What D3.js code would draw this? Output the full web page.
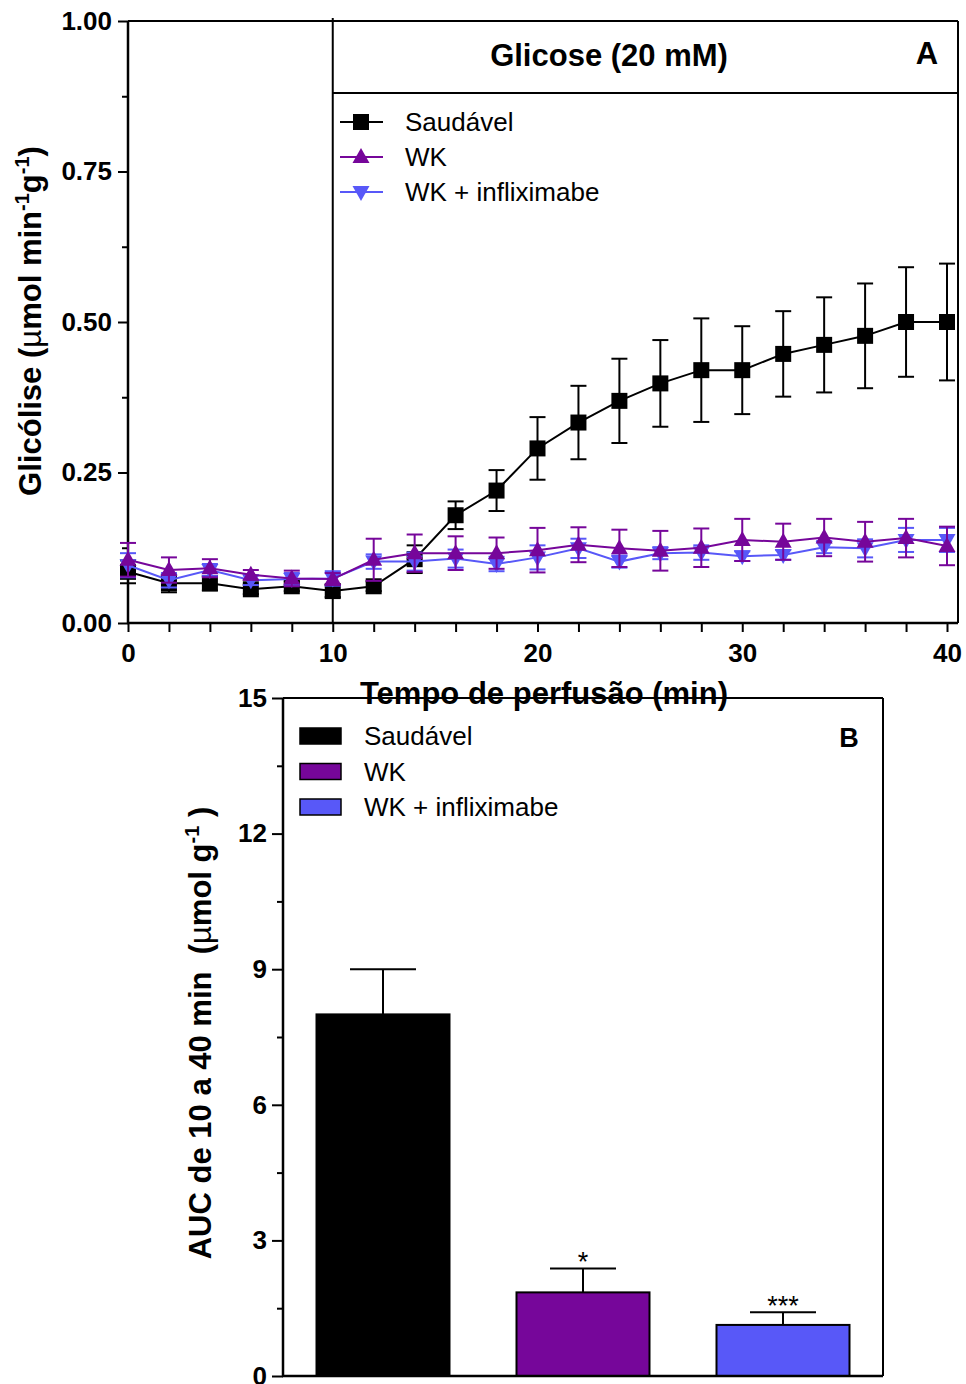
<!DOCTYPE html>
<html lang="en">
<head>
<meta charset="UTF-8">
<title>Glicólise</title>
<style>
    body { margin: 0; background: #fff; }
    svg { display: block; font-family: "Liberation Sans", Arial, sans-serif; }
    .tick-lbl { font-weight: bold; font-size: 26px; }
</style>
</head>
<body>
<div id="chart"></div>
<script src="https://d3js.org/d3.v7.min.js"></script>
<script>
// ---- data (panel A) ----
const times = [0, 2, 4, 6, 8, 10, 12, 14, 16, 18, 20, 22, 24, 26, 28, 30, 32, 34, 36, 38, 40];
const saudavel = [0.085, 0.066, 0.066, 0.056, 0.061, 0.053, 0.061, 0.106, 0.179, 0.220, 0.290, 0.333, 0.369, 0.398, 0.420, 0.420, 0.447, 0.462, 0.477, 0.500, 0.500];
const saudavelErr = [0.019, 0.015, 0.012, 0.008, 0.008, 0.010, 0.008, 0.023, 0.023, 0.034, 0.052, 0.061, 0.070, 0.072, 0.086, 0.073, 0.071, 0.079, 0.087, 0.091, 0.097];
const wk = [0.105, 0.088, 0.091, 0.080, 0.074, 0.073, 0.105, 0.116, 0.116, 0.116, 0.121, 0.130, 0.124, 0.120, 0.125, 0.138, 0.135, 0.142, 0.135, 0.141, 0.128];
const wkErr = [0.028, 0.021, 0.015, 0.008, 0.013, 0.010, 0.035, 0.031, 0.028, 0.026, 0.037, 0.029, 0.031, 0.033, 0.032, 0.035, 0.030, 0.031, 0.033, 0.032, 0.032];
const wkInf = [0.096, 0.071, 0.088, 0.071, 0.073, 0.074, 0.102, 0.102, 0.107, 0.098, 0.109, 0.124, 0.102, 0.116, 0.117, 0.111, 0.113, 0.126, 0.124, 0.138, 0.138];
const wkInfErr = [0.020, 0.012, 0.010, 0.008, 0.010, 0.012, 0.012, 0.015, 0.015, 0.012, 0.020, 0.016, 0.010, 0.010, 0.012, 0.008, 0.008, 0.010, 0.015, 0.020, 0.020];
const yTicksA = [0, 0.25, 0.5, 0.75, 1.0];
const xTicksA = [0, 10, 20, 30, 40];

// ---- data (panel B) ----
const groups = ["Saudável", "WK", "WK + infliximabe"];
const auc = [8.0, 1.85, 1.13];
const aucErr = [1.0, 0.53, 0.28];
const aucSig = ["", "*", "***"];
const yTicksB = [0, 3, 6, 9, 12, 15];

const colors = ["#000000", "#76069A", "#5858F8"];

const svg = d3.select("#chart").append("svg")
    .attr("width", 966)
    .attr("height", 1384);

// ================= Panel A =================
const xA = d3.scaleLinear().domain([0, 40]).range([128, 947]);
const yA = d3.scaleLinear().domain([0, 1]).range([623, 21]);
const gA = svg.append("g");

// frame
gA.append("line").attr("x1", 128).attr("x2", 958).attr("y1", 21).attr("y2", 21).attr("stroke", "#000").attr("stroke-width", 2);
gA.append("line").attr("x1", 958).attr("x2", 958).attr("y1", 21).attr("y2", 623).attr("stroke", "#000").attr("stroke-width", 2);
// header box
gA.append("line").attr("x1", xA(10)).attr("x2", 958).attr("y1", 93).attr("y2", 93).attr("stroke", "#000").attr("stroke-width", 2);
// vertical line at 10 min
gA.append("line").attr("x1", xA(10)).attr("x2", xA(10)).attr("y1", 18).attr("y2", 623).attr("stroke", "#000").attr("stroke-width", 2);

// axes
const yAx = gA.append("g").attr("transform", "translate(128,0)")
    .call(d3.axisLeft(yA).tickValues(yTicksA).tickFormat(d3.format(".2f")).tickSize(10).tickPadding(6));
gA.append("g").attr("transform", "translate(128,0)")
    .call(d3.axisLeft(yA).tickValues([0.125, 0.375, 0.625, 0.875]).tickSize(6).tickFormat(""))
    .call(g => g.select(".domain").remove())
    .selectAll("line").attr("stroke-width", 2);

const xAx = gA.append("g").attr("transform", "translate(0,623)")
    .call(d3.axisBottom(xA).tickValues(xTicksA).tickFormat(d3.format("d")).tickSize(9).tickPadding(12));
gA.append("g").attr("transform", "translate(0,623)")
    .call(d3.axisBottom(xA).tickValues(times.filter(t => t % 10 !== 0)).tickSize(9).tickFormat(""))
    .call(g => g.select(".domain").remove())
    .selectAll("line").attr("stroke-width", 2);

[yAx, xAx].forEach(ax => {
    ax.select(".domain").remove();
    ax.selectAll(".tick line").attr("stroke-width", 2);
    ax.selectAll("text").attr("class", "tick-lbl").attr("fill", "#000").style("font-family", "inherit");
});
gA.append("line").attr("x1", 128).attr("x2", 128).attr("y1", 21).attr("y2", 624).attr("stroke", "#000").attr("stroke-width", 2.5);
gA.append("line").attr("x1", 127).attr("x2", 958).attr("y1", 623).attr("y2", 623).attr("stroke", "#000").attr("stroke-width", 2.5);

// axis titles
gA.append("text")
    .attr("x", 544).attr("y", 704)
    .attr("text-anchor", "middle")
    .style("font-weight", "bold").style("font-size", "31px")
    .text("Tempo de perfusão (min)");

const yTitleA = gA.append("text")
    .attr("transform", "translate(41,321) rotate(-90)")
    .attr("text-anchor", "middle")
    .style("font-weight", "bold").style("font-size", "31px");
yTitleA.append("tspan").text("Glicólise (");
yTitleA.append("tspan").style("font-weight", "normal").text("µ");
yTitleA.append("tspan").text("mol min");
yTitleA.append("tspan").attr("dy", -12).style("font-size", "20px").text("-1");
yTitleA.append("tspan").attr("dy", 12).text("g");
yTitleA.append("tspan").attr("dy", -12).style("font-size", "20px").text("-1");
yTitleA.append("tspan").attr("dy", 12).text(")");

gA.append("text").attr("x", 609).attr("y", 66).attr("text-anchor", "middle")
    .style("font-weight", "bold").style("font-size", "31px").text("Glicose (20 mM)");
gA.append("text").attr("x", 927).attr("y", 64).attr("text-anchor", "middle")
    .style("font-weight", "bold").style("font-size", "31px").text("A");

// series
const seriesA = [
    { name: "Saudável", vals: saudavel, err: saudavelErr, color: colors[0], sym: "square" },
    { name: "WK + infliximabe", vals: wkInf, err: wkInfErr, color: colors[2], sym: "down" },
    { name: "WK", vals: wk, err: wkErr, color: colors[1], sym: "up" }
];

function marker(sel, sym, color) {
    if (sym === "square") {
        sel.append("rect").attr("x", -8).attr("y", -8).attr("width", 16).attr("height", 16).attr("fill", color);
    } else if (sym === "up") {
        sel.append("path").attr("d", "M0,-9L8.5,6L-8.5,6Z").attr("fill", color);
    } else {
        sel.append("path").attr("d", "M0,9L8.5,-6L-8.5,-6Z").attr("fill", color);
    }
}

const line = (vals) => d3.line().x((d, i) => xA(times[i])).y(d => yA(d))(vals);

seriesA.forEach(s => {
    const g = gA.append("g");
    const pts = times.map((t, i) => ({ t, v: s.vals[i], e: s.err[i] }));
    const eb = g.selectAll(".eb").data(pts).enter().append("g")
        .attr("stroke", s.color).attr("stroke-width", 2);
    eb.append("line").attr("x1", d => xA(d.t)).attr("x2", d => xA(d.t))
        .attr("y1", d => yA(d.v - d.e)).attr("y2", d => yA(d.v + d.e));
    eb.append("line").attr("x1", d => xA(d.t) - 8).attr("x2", d => xA(d.t) + 8)
        .attr("y1", d => yA(d.v + d.e)).attr("y2", d => yA(d.v + d.e));
    eb.append("line").attr("x1", d => xA(d.t) - 8).attr("x2", d => xA(d.t) + 8)
        .attr("y1", d => yA(d.v - d.e)).attr("y2", d => yA(d.v - d.e));
    g.append("path").attr("d", line(s.vals)).attr("fill", "none").attr("stroke", s.color).attr("stroke-width", 2);
    g.selectAll(".m").data(pts).enter().append("g")
        .attr("transform", d => `translate(${xA(d.t)},${yA(d.v)})`)
        .each(function () { marker(d3.select(this), s.sym, s.color); });
});

// legend A
const legA = [seriesA[0], seriesA[2], seriesA[1]];
legA.forEach((s, i) => {
    const y = 122 + i * 35;
    const g = gA.append("g").attr("transform", `translate(0,${y})`);
    g.append("line").attr("x1", 340).attr("x2", 383).attr("y1", 0).attr("y2", 0).attr("stroke", s.color).attr("stroke-width", 2);
    const m = g.append("g").attr("transform", "translate(361,0)");
    marker(m, s.sym, s.color);
    g.append("text").attr("x", 405).attr("y", 9).style("font-size", "26px").text(s.name);
});

// ================= Panel B =================
const xB = d3.scaleBand().domain(groups).range([283, 883]).paddingInner(0.335).paddingOuter(0.1675);
const yB = d3.scaleLinear().domain([0, 15]).range([1376, 698]);
const gB = svg.append("g");

gB.append("line").attr("x1", 283).attr("x2", 883).attr("y1", 698).attr("y2", 698).attr("stroke", "#000").attr("stroke-width", 2);
gB.append("line").attr("x1", 883).attr("x2", 883).attr("y1", 698).attr("y2", 1376).attr("stroke", "#000").attr("stroke-width", 2);

const yBx = gB.append("g").attr("transform", "translate(283,0)")
    .call(d3.axisLeft(yB).tickValues(yTicksB).tickSize(11).tickPadding(5));
yBx.select(".domain").remove();
yBx.selectAll(".tick line").attr("stroke-width", 2);
yBx.selectAll("text").attr("fill", "#000").style("font-family", "inherit").style("font-weight", "bold").style("font-size", "26px");
gB.append("g").attr("transform", "translate(283,0)")
    .call(d3.axisLeft(yB).tickValues([1.5, 4.5, 7.5, 10.5, 13.5]).tickSize(6).tickFormat(""))
    .call(g => g.select(".domain").remove())
    .selectAll("line").attr("stroke-width", 2);
gB.append("line").attr("x1", 283).attr("x2", 283).attr("y1", 698).attr("y2", 1377).attr("stroke", "#000").attr("stroke-width", 2.5);

// bars
groups.forEach((grp, i) => {
    const x0 = xB(grp), w = xB.bandwidth(), cx = x0 + w / 2;
    gB.append("rect").attr("x", x0).attr("y", yB(auc[i])).attr("width", w).attr("height", yB(0) - yB(auc[i]))
        .attr("fill", colors[i]).attr("stroke", "#000").attr("stroke-width", 2);
    gB.append("line").attr("x1", cx).attr("x2", cx).attr("y1", yB(auc[i])).attr("y2", yB(auc[i] + aucErr[i]))
        .attr("stroke", "#000").attr("stroke-width", 2);
    gB.append("line").attr("x1", cx - 33).attr("x2", cx + 33).attr("y1", yB(auc[i] + aucErr[i])).attr("y2", yB(auc[i] + aucErr[i]))
        .attr("stroke", "#000").attr("stroke-width", 2);
    if (aucSig[i]) {
        gB.append("text").attr("x", cx).attr("y", yB(auc[i] + aucErr[i]) + 3).attr("text-anchor", "middle")
            .style("font-size", "27px").text(aucSig[i]);
    }
});
gB.append("line").attr("x1", 282).attr("x2", 883).attr("y1", 1376).attr("y2", 1376).attr("stroke", "#000").attr("stroke-width", 2.5);

// y title B
const yTitleB = gB.append("text")
    .attr("transform", "translate(211,1033) rotate(-90)")
    .attr("text-anchor", "middle")
    .style("font-weight", "bold").style("font-size", "31px");
yTitleB.append("tspan").text("AUC de 10 a 40 min\u00a0\u00a0(");
yTitleB.append("tspan").style("font-weight", "normal").text("µ");
yTitleB.append("tspan").text("mol g");
yTitleB.append("tspan").attr("dy", -12).style("font-size", "20px").text("-1");
yTitleB.append("tspan").attr("dy", 12).text("\u00a0)");

gB.append("text").attr("x", 849).attr("y", 747).attr("text-anchor", "middle")
    .style("font-weight", "bold").style("font-size", "27px").text("B");

// legend B
groups.forEach((grp, i) => {
    const y = 736 + i * 35.5;
    gB.append("rect").attr("x", 300).attr("y", y - 8).attr("width", 41).attr("height", 16)
        .attr("fill", colors[i]).attr("stroke", "#000").attr("stroke-width", 1.5);
    gB.append("text").attr("x", 364).attr("y", y + 9).style("font-size", "26px").text(grp);
});
</script>
</body>
</html>
